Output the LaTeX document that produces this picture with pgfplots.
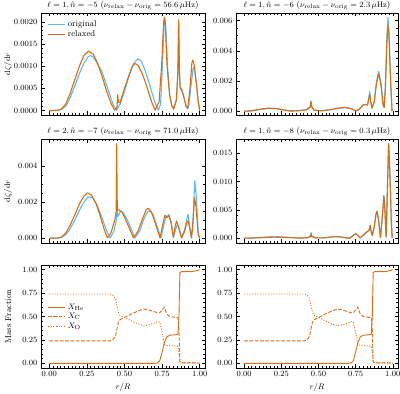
\documentclass[border=0pt]{standalone}
\usepackage{pgfplots}
\pgfplotsset{compat=1.18}
\definecolor{cblue}{RGB}{95,185,235}
\definecolor{corange}{RGB}{214,110,20}
\pgfplotsset{
  base/.style={scale only axis, xmin=-0.055, xmax=1.035,
    tick align=inside, xtick={0,0.25,0.5,0.75,1}, minor x tick num=9,
    major tick length=3.5pt, minor tick length=2pt,
    axis line style={line width=0.7pt},
    every tick/.style={black, line width=0.5pt},
    scaled y ticks=false, no markers,
    title style={yshift=-6pt},
    xticklabel style={/pgf/number format/.cd, fixed, fixed zerofill, precision=2},
    every axis plot/.append style={line width=1.1pt, line join=round},
  },
  notx/.style={xticklabel=\empty},
}
\begin{document}
\begin{tikzpicture}[font=\fontsize{8.5}{10}\selectfont]
\useasboundingbox (0,0) rectangle (400pt,394pt);
% ---------- A1
\begin{axis}[base, notx, at={(41pt,279pt)}, anchor=south west, width=164pt, height=102pt,
  ymin=-0.0001, ymax=0.0022, ytick={0,0.0005,0.001,0.0015,0.002}, minor y tick num=4,
  yticklabel style={/pgf/number format/.cd, fixed, fixed zerofill, precision=4},
  title={$\ell = 1, \tilde{n} = -5$ ($\nu_{\mathrm{relax}} - \nu_{\mathrm{orig}} = 56.6\,\mu\mathrm{Hz}$)},
  ylabel={$\mathrm{d}\zeta/\mathrm{d}r$}, ylabel style={at={(axis description cs:-0.2,0.5)}, anchor=center},
  legend style={draw=none, fill=none, at={(0.02,0.965)}, anchor=north west, row sep=-1.5pt},
  legend cell align=left]
\addlegendimage{color=cblue, line width=1.3pt}
\addlegendentry{original}
\addlegendimage{color=corange, line width=1.3pt}
\addlegendentry{relaxed}
\addplot[color=cblue, forget plot] table {
0.00 0
0.05 0.000003
0.08 0.00002
0.11 0.00010
0.14 0.00030
0.17 0.00056
0.20 0.00083
0.23 0.00107
0.26 0.00122
0.275 0.00124
0.29 0.00121
0.32 0.00106
0.335 0.00097
0.345 0.00092
0.37 0.00068
0.40 0.00038
0.425 0.00013
0.447 0.00001
0.455 0.00005
0.46 0.00010
0.47 0.00014
0.50 0.00043
0.53 0.00078
0.56 0.00106
0.59 0.00117
0.61 0.00112
0.64 0.00088
0.67 0.00055
0.70 0.00020
0.725 0.00001
0.74 0.00015
0.752 0.00100
0.763 0.00195
0.768 0.00208
0.774 0.00190
0.787 0.00095
0.80 0.00035
0.815 0.00010
0.83 0.00008
0.845 0.00022
0.855 0.00085
0.86 0.00200
0.865 0.00085
0.87 0.00050
0.88 0.00045
0.895 0.00030
0.91 0.00010
0.925 0.00006
0.94 0.00050
0.955 0.00093
0.96 0.00097
0.967 0.00090
0.98 0.00055
0.99 0.00020
1.0 0
};
\addplot[color=corange, forget plot] table {
0.00 0
0.05 0.000005
0.08 0.00003
0.11 0.00015
0.14 0.00040
0.17 0.00070
0.20 0.00100
0.23 0.00124
0.26 0.00134
0.29 0.00128
0.32 0.00108
0.35 0.00078
0.38 0.00045
0.41 0.00016
0.435 0.00001
0.45 0.00008
0.455 0.00036
0.46 0.00018
0.47 0.00018
0.50 0.00050
0.53 0.00080
0.55 0.00098
0.57 0.00106
0.59 0.00102
0.62 0.00082
0.65 0.00052
0.68 0.00020
0.703 0.00001
0.73 0.00020
0.748 0.00110
0.760 0.00200
0.765 0.00210
0.771 0.00195
0.783 0.00100
0.80 0.00035
0.815 0.00010
0.827 0.00003
0.845 0.00025
0.855 0.00090
0.86 0.00205
0.865 0.00090
0.87 0.00053
0.88 0.00048
0.895 0.00030
0.91 0.00008
0.92 0.00005
0.935 0.00050
0.948 0.00108
0.955 0.00114
0.962 0.00105
0.978 0.00060
0.99 0.00020
1.0 0.0
};
\end{axis}
% ---------- A2
\begin{axis}[base, notx, at={(236pt,279pt)}, anchor=south west, width=162pt, height=102pt,
  ymin=-0.00025, ymax=0.0065, ytick={0,0.002,0.004,0.006}, minor y tick num=3,
  yticklabel style={/pgf/number format/.cd, fixed, fixed zerofill, precision=3},
  title={$\ell = 1, \tilde{n} = -6$ ($\nu_{\mathrm{relax}} - \nu_{\mathrm{orig}} = 2.3\,\mu\mathrm{Hz}$)}]
\addplot[color=cblue] table {
0 0
0.05 0.00002
0.10 0.00010
0.16 0.00019
0.22 0.00017
0.28 0.00006
0.32 0.00001
0.36 0.00003
0.42 0.00010
0.445 0.00025
0.45 0.00058
0.455 0.00025
0.47 0.00007
0.52 0.00003
0.58 0.00010
0.64 0.00020
0.68 0.00024
0.72 0.00017
0.755 0.00002
0.775 0.00012
0.80 0.00040
0.815 0.00046
0.83 0.00042
0.845 0.00130
0.852 0.00065
0.86 0.00022
0.875 0.00065
0.89 0.00195
0.905 0.00264
0.92 0.00190
0.935 0.00040
0.942 0.00025
0.95 0.00160
0.96 0.00490
0.968 0.00620
0.975 0.00510
0.985 0.00210
0.995 0.00002
};
\addplot[color=corange] table {
0 0
0.05 0.00003
0.10 0.00012
0.16 0.00020
0.22 0.00017
0.28 0.00006
0.31 0.00001
0.36 0.00003
0.42 0.00010
0.445 0.00030
0.45 0.00068
0.455 0.00030
0.47 0.00008
0.52 0.00003
0.58 0.00010
0.64 0.00022
0.68 0.00025
0.72 0.00017
0.75 0.00002
0.77 0.00010
0.80 0.00040
0.815 0.00045
0.83 0.00040
0.845 0.00110
0.852 0.00060
0.86 0.00020
0.875 0.00060
0.89 0.00180
0.905 0.00248
0.92 0.00180
0.935 0.00040
0.942 0.00025
0.95 0.00150
0.96 0.00450
0.968 0.00570
0.975 0.00480
0.985 0.00200
0.995 0.00002
};
\end{axis}
% ---------- A3
\begin{axis}[base, notx, at={(41pt,151pt)}, anchor=south west, width=164pt, height=104pt,
  ymin=-0.00026, ymax=0.00551, ytick={0,0.002,0.004}, minor y tick num=3,
  yticklabel style={/pgf/number format/.cd, fixed, fixed zerofill, precision=3},
  title={$\ell = 2, \tilde{n} = -7$ ($\nu_{\mathrm{relax}} - \nu_{\mathrm{orig}} = 71.0\,\mu\mathrm{Hz}$)},
  ylabel={$\mathrm{d}\zeta/\mathrm{d}r$}, ylabel style={at={(axis description cs:-0.2,0.5)}, anchor=center}]
\addplot[color=cblue] table {
0 0
0.05 0.00001
0.08 0.00004
0.11 0.00020
0.14 0.00055
0.17 0.00100
0.20 0.00155
0.23 0.00200
0.255 0.00226
0.27 0.00230
0.29 0.00222
0.32 0.00180
0.35 0.00115
0.38 0.00045
0.405 0.00002
0.43 0.00040
0.445 0.00100
0.45 0.00170
0.455 0.00122
0.46 0.00125
0.47 0.00148
0.49 0.00145
0.52 0.00100
0.55 0.00040
0.57 0.00002
0.60 0.00040
0.63 0.00110
0.655 0.00148
0.67 0.00151
0.69 0.00130
0.72 0.00060
0.742 0.00002
0.76 0.00070
0.775 0.00125
0.785 0.00120
0.795 0.00133
0.81 0.00090
0.826 0.00005
0.84 0.00050
0.852 0.00077
0.865 0.00050
0.88 0.00002
0.90 0.00050
0.915 0.00110
0.923 0.00133
0.932 0.00070
0.945 0.00003
0.955 0.00100
0.967 0.00320
0.977 0.00230
0.99 0.00030
1.0 0
};
\addplot[color=corange] table {
0 0
0.05 0.00001
0.08 0.00006
0.11 0.00030
0.14 0.00075
0.17 0.00130
0.20 0.00190
0.23 0.00235
0.255 0.00252
0.28 0.00240
0.31 0.00195
0.34 0.00120
0.365 0.00050
0.387 0.00002
0.41 0.00030
0.435 0.00100
0.445 0.00150
0.448 0.00525
0.452 0.00160
0.46 0.00157
0.48 0.00150
0.50 0.00118
0.53 0.00060
0.56 0.00002
0.59 0.00040
0.62 0.00110
0.645 0.00160
0.658 0.00166
0.68 0.00145
0.71 0.00070
0.736 0.00002
0.755 0.00080
0.768 0.00127
0.78 0.00115
0.795 0.00125
0.81 0.00085
0.824 0.00005
0.835 0.00060
0.846 0.00096
0.86 0.00060
0.879 0.00002
0.90 0.00040
0.915 0.00090
0.923 0.00096
0.935 0.00050
0.945 0.00003
0.955 0.00080
0.965 0.00225
0.975 0.00180
0.99 0.00020
1.0 0
};
\end{axis}
% ---------- A4
\begin{axis}[base, notx, at={(236pt,151pt)}, anchor=south west, width=162pt, height=104pt,
  ymin=-0.00084, ymax=0.01754, ytick={0,0.005,0.01,0.015}, minor y tick num=4,
  yticklabel style={/pgf/number format/.cd, fixed, fixed zerofill, precision=3},
  title={$\ell = 1, \tilde{n} = -8$ ($\nu_{\mathrm{relax}} - \nu_{\mathrm{orig}} = 0.3\,\mu\mathrm{Hz}$)}]
\addplot[color=cblue] table {
0 0
0.1 0.00012
0.2 0.00030
0.3 0.00016
0.38 0.00003
0.43 0.00012
0.445 0.00040
0.45 0.00100
0.455 0.00040
0.48 0.00005
0.54 0.00008
0.6 0.00028
0.64 0.00028
0.69 0.00005
0.71 0.00002
0.735 0.00050
0.75 0.00082
0.765 0.00050
0.78 0.00005
0.80 0.00050
0.825 0.00110
0.84 0.00140
0.848 0.00230
0.855 0.00110
0.862 0.00050
0.875 0.00200
0.888 0.00440
0.895 0.00480
0.905 0.00300
0.917 0.00010
0.93 0.00400
0.94 0.00760
0.947 0.00500
0.955 0.00020
0.962 0.00700
0.972 0.01680
0.98 0.01200
0.99 0.00300
0.996 0.0
};
\addplot[color=corange] table {
0 0
0.1 0.00008
0.2 0.00020
0.3 0.00012
0.38 0.00003
0.43 0.00010
0.445 0.00030
0.45 0.00070
0.455 0.00030
0.48 0.00005
0.54 0.00008
0.6 0.00025
0.64 0.00026
0.69 0.00005
0.71 0.00002
0.735 0.00050
0.75 0.00080
0.765 0.00050
0.78 0.00005
0.80 0.00050
0.825 0.00110
0.84 0.00140
0.848 0.00220
0.855 0.00110
0.862 0.00050
0.875 0.00200
0.888 0.00440
0.895 0.00475
0.905 0.00300
0.917 0.00010
0.93 0.00400
0.94 0.00750
0.947 0.00500
0.955 0.00020
0.962 0.00700
0.972 0.01670
0.98 0.01200
0.99 0.00300
0.996 0.0
};
\end{axis}
% ---------- A5 / A6 mass fractions
\pgfplotstableread{
x He C O
0.00 0.000 0.240 0.740
0.40 0.000 0.240 0.740
0.42 0.000 0.245 0.735
0.44 0.000 0.290 0.690
0.45 0.000 0.370 0.610
0.46 0.000 0.440 0.545
0.47 0.000 0.465 0.515
0.50 0.000 0.490 0.490
0.55 0.000 0.530 0.450
0.60 0.000 0.565 0.415
0.63 0.000 0.580 0.400
0.66 0.000 0.570 0.410
0.70 0.000 0.550 0.430
0.72 0.005 0.540 0.445
0.735 0.030 0.540 0.440
0.75 0.120 0.570 0.330
0.765 0.220 0.600 0.200
0.78 0.280 0.530 0.190
0.80 0.300 0.500 0.190
0.84 0.305 0.490 0.185
0.855 0.310 0.490 0.180
0.862 0.500 0.350 0.120
0.868 0.970 0.020 0.010
0.88 0.980 0.005 0.005
0.95 0.980 0.005 0.005
0.98 0.990 0.003 0.003
1.00 1.000 0.000 0.000
}\massdata
\begin{axis}[base, at={(41pt,26pt)}, anchor=south west, width=164pt, height=103pt,
  ymin=-0.05, ymax=1.05, ytick={0,0.25,0.5,0.75,1}, minor y tick num=4,
  yticklabel style={/pgf/number format/.cd, fixed, fixed zerofill, precision=2},
  ylabel={Mass Fraction}, ylabel style={at={(axis description cs:-0.2,0.5)}, anchor=center},
  xlabel={$r/R$}, xlabel style={at={(axis description cs:0.5,-0.185)}, anchor=center},
  legend style={draw=none, fill=none, at={(0.02,0.665)}, anchor=north west, row sep=-1.5pt},
  legend cell align=left]
\addlegendimage{color=corange, line width=1.2pt}
\addlegendentry{$X_{\mathrm{He}}$}
\addlegendimage{color=corange, line width=1.0pt, dash pattern=on 3.7pt off 1.6pt}
\addlegendentry{$X_{\mathrm{C}}$}
\addlegendimage{color=corange, line width=1.0pt, dash pattern=on 1pt off 1.65pt}
\addlegendentry{$X_{\mathrm{O}}$}
\addplot[color=corange, line width=0.9pt, forget plot] table[x=x, y=He] {\massdata};
\addplot[color=corange, line width=0.9pt, dash pattern=on 3.7pt off 1.6pt, forget plot] table[x=x, y=C] {\massdata};
\addplot[color=corange, line width=0.9pt, dash pattern=on 1pt off 1.65pt, forget plot] table[x=x, y=O] {\massdata};
\end{axis}
\begin{axis}[base, at={(236pt,26pt)}, anchor=south west, width=162pt, height=103pt,
  ymin=-0.05, ymax=1.05, ytick={0,0.25,0.5,0.75,1}, minor y tick num=4,
  yticklabel style={/pgf/number format/.cd, fixed, fixed zerofill, precision=2},
  xlabel={$r/R$}, xlabel style={at={(axis description cs:0.5,-0.185)}, anchor=center}]
\addplot[color=corange, line width=0.9pt] table[x=x, y=He] {\massdata};
\addplot[color=corange, line width=0.9pt, dash pattern=on 3.7pt off 1.6pt] table[x=x, y=C] {\massdata};
\addplot[color=corange, line width=0.9pt, dash pattern=on 1pt off 1.65pt] table[x=x, y=O] {\massdata};
\end{axis}
\end{tikzpicture}
\end{document}
